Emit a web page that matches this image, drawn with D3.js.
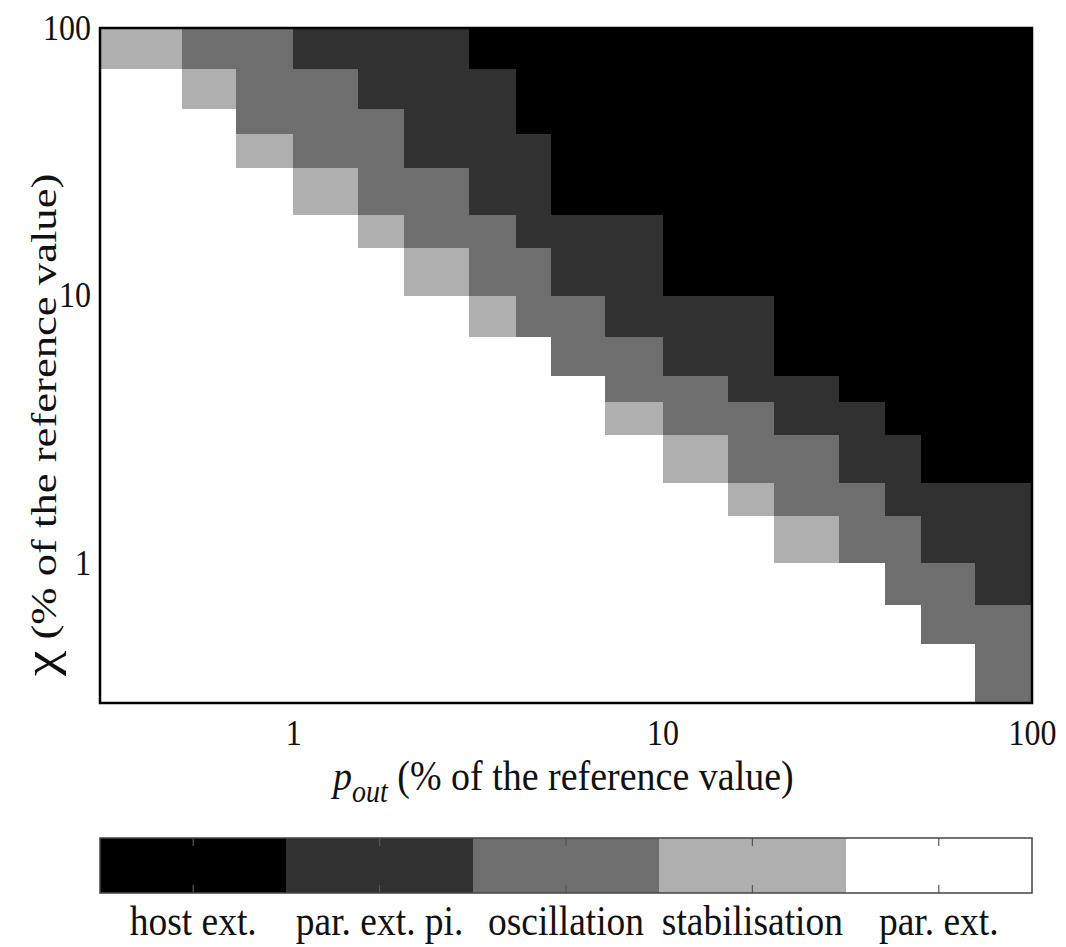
<!DOCTYPE html>
<html>
<head>
<meta charset="utf-8">
<script src="https://cdn.jsdelivr.net/npm/d3@7"></script>
<style>
  html, body { margin: 0; padding: 0; background: #fff; }
  svg { display: block; }
  text { font-family: "Liberation Serif", "Times New Roman", serif; fill: #111; }
</style>
</head>
<body>
<svg id="chart" width="1066" height="947"></svg>
<script>
// ---------- data ----------
// cell edges (% of reference value), shared by both axes
const pOutEdges = [0.3, 0.5, 0.7, 1, 1.5, 2, 3, 4, 5, 7, 10, 15, 20, 30, 40, 50, 70, 100];
const chiEdges  = [0.3, 0.5, 0.7, 1, 1.5, 2, 3, 4, 5, 7, 10, 15, 20, 30, 40, 50, 70, 100];
const xTickValues = [1, 10, 100];
const yTickValues = [1, 10, 100];
const categories = ["host ext.", "par. ext. pi.", "oscillation", "stabilisation", "par. ext."];
const categoryColors = ["#000000", "#313131", "#6e6e6e", "#afafaf", "#ffffff"];
// regime index per cell; rows listed from the top (chi 70-100) down to the bottom (chi 0.3-0.5)
const regimeRows = [
  [3,2,2,1,1,1,0,0,0,0,0,0,0,0,0,0,0],
  [4,3,2,2,1,1,1,0,0,0,0,0,0,0,0,0,0],
  [4,4,2,2,2,1,1,0,0,0,0,0,0,0,0,0,0],
  [4,4,3,2,2,1,1,1,0,0,0,0,0,0,0,0,0],
  [4,4,4,3,2,2,1,1,0,0,0,0,0,0,0,0,0],
  [4,4,4,4,3,2,2,1,1,1,0,0,0,0,0,0,0],
  [4,4,4,4,4,3,2,2,1,1,0,0,0,0,0,0,0],
  [4,4,4,4,4,4,3,2,2,1,1,1,0,0,0,0,0],
  [4,4,4,4,4,4,4,4,2,2,1,1,0,0,0,0,0],
  [4,4,4,4,4,4,4,4,4,2,2,1,1,0,0,0,0],
  [4,4,4,4,4,4,4,4,4,3,2,2,1,1,0,0,0],
  [4,4,4,4,4,4,4,4,4,4,3,2,2,1,1,0,0],
  [4,4,4,4,4,4,4,4,4,4,4,3,2,2,1,1,1],
  [4,4,4,4,4,4,4,4,4,4,4,4,3,2,2,1,1],
  [4,4,4,4,4,4,4,4,4,4,4,4,4,4,2,2,1],
  [4,4,4,4,4,4,4,4,4,4,4,4,4,4,4,2,2],
  [4,4,4,4,4,4,4,4,4,4,4,4,4,4,4,4,2]
];

// ---------- layout ----------
const plot = { left: 100, right: 1032, top: 28, bottom: 703 };
const cbar = { left: 100, right: 1032, top: 838, bottom: 893 };
const stretch = 1.12; // glyphs in the reference are slightly taller than wide

const svg = d3.select("#chart");

const x = d3.scaleLog().domain([pOutEdges[0], pOutEdges[pOutEdges.length - 1]]).range([plot.left, plot.right]);
const y = d3.scaleLog().domain([chiEdges[0], chiEdges[chiEdges.length - 1]]).range([plot.bottom, plot.top]);
const color = d3.scaleOrdinal().domain(d3.range(categories.length)).range(categoryColors);

// cells
const nRows = chiEdges.length - 1;
const cells = [];
regimeRows.forEach((row, ri) => {
  const j = nRows - 1 - ri;
  row.forEach((v, ci) => {
    cells.push({ x0: pOutEdges[ci], x1: pOutEdges[ci + 1], y0: chiEdges[j], y1: chiEdges[j + 1], v });
  });
});

svg.append("g")
  .attr("shape-rendering", "crispEdges")
  .selectAll("rect")
  .data(cells)
  .join("rect")
  .attr("x", d => x(d.x0))
  .attr("y", d => y(d.y1))
  .attr("width", d => x(d.x1) - x(d.x0) + 0.5)
  .attr("height", d => y(d.y0) - y(d.y1) + 0.5)
  .attr("fill", d => color(d.v));

// frame
svg.append("rect")
  .attr("x", plot.left).attr("y", plot.top)
  .attr("width", plot.right - plot.left).attr("height", plot.bottom - plot.top)
  .attr("fill", "none").attr("stroke", "#000").attr("stroke-width", 2.5);

// axes (labels drawn by d3 axes, then stretched vertically around their own anchor)
const xAxis = svg.append("g")
  .attr("transform", `translate(0,${plot.bottom})`)
  .call(d3.axisBottom(x).tickValues(xTickValues).tickFormat(d3.format("d")).tickSize(0).tickPadding(0));
xAxis.select(".domain").remove();
xAxis.selectAll("text")
  .attr("font-size", 32).attr("y", 0).attr("dy", null)
  .attr("transform", `translate(0,42) scale(1,${stretch})`);

const yAxis = svg.append("g")
  .attr("transform", `translate(${plot.left},0)`)
  .call(d3.axisLeft(y).tickValues(yTickValues).tickFormat(d3.format("d")).tickSize(0).tickPadding(9));
yAxis.select(".domain").remove();
yAxis.selectAll("text")
  .attr("font-size", 32).attr("dy", null).attr("y", 0)
  .attr("transform", `translate(0,11) scale(1,${stretch})`);

// x label
const xl = svg.append("text")
  .attr("transform", `translate(333,790) scale(1,${stretch})`)
  .attr("font-size", 38);
xl.append("tspan").attr("font-style", "italic").text("p");
xl.append("tspan").attr("font-style", "italic").attr("font-size", 28).attr("dy", 11).text("out");
xl.append("tspan").attr("dy", -11).text(" (% of the reference value)");

// y label
const yl = svg.append("text")
  .attr("transform", `translate(56,676) rotate(-90) scale(1.24,1)`)
  .attr("font-size", 36);
yl.append("tspan").attr("font-size", 46).text("χ");
yl.append("tspan").text(" (% of the reference value)");

// colorbar
const cx = d3.scaleBand().domain(d3.range(categories.length)).range([cbar.left, cbar.right]).padding(0);
svg.append("g").attr("shape-rendering", "crispEdges")
  .selectAll("rect").data(d3.range(categories.length)).join("rect")
  .attr("x", d => cx(d)).attr("y", cbar.top)
  .attr("width", cx.bandwidth() + 0.5).attr("height", cbar.bottom - cbar.top)
  .attr("fill", d => color(d));

const ticks = svg.append("g").attr("stroke", "#555").attr("stroke-width", 1.2);
d3.range(categories.length).forEach(d => {
  const cxm = cx(d) + cx.bandwidth() / 2;
  ticks.append("line").attr("x1", cxm).attr("x2", cxm).attr("y1", cbar.top).attr("y2", cbar.top + 8);
  ticks.append("line").attr("x1", cxm).attr("x2", cxm).attr("y1", cbar.bottom).attr("y2", cbar.bottom - 8);
});
svg.append("rect")
  .attr("x", cbar.left).attr("y", cbar.top)
  .attr("width", cbar.right - cbar.left).attr("height", cbar.bottom - cbar.top)
  .attr("fill", "none").attr("stroke", "#444").attr("stroke-width", 1.5);

svg.append("g").selectAll("text").data(categories).join("text")
  .attr("transform", (d, i) => `translate(${cx(i) + cx.bandwidth() / 2},935) scale(1,${stretch})`)
  .attr("text-anchor", "middle")
  .attr("font-size", 37.5)
  .text(d => d);
</script>
</body>
</html>
